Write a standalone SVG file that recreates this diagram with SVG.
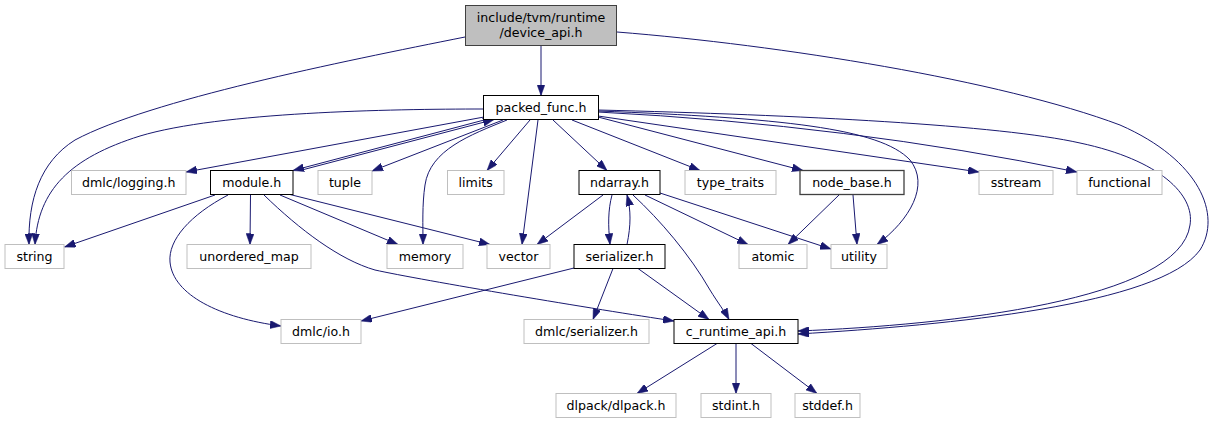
<svg xmlns="http://www.w3.org/2000/svg" width="1217" height="425" viewBox="0 0 1217 425">
<style>
.n rect{fill:#fff;stroke:#000;stroke-width:1}
.g rect{fill:#fff;stroke:#bfbfbf;stroke-width:1}
.root rect{fill:#bfbfbf;stroke:#404040;stroke-width:1}
.nb rect{fill:#fff;stroke:#404040;stroke-width:1.3}
text{font-family:"DejaVu Sans",sans-serif;font-size:12.6px;text-anchor:middle;fill:#000}
#edges path{fill:none;stroke:#191970;stroke-width:1;marker-end:url(#a)}
</style>
<defs>
<marker id="a" viewBox="0 0 11 8" refX="11" refY="4" markerWidth="11" markerHeight="8" markerUnits="userSpaceOnUse" orient="auto">
<path d="M0,0 L11,4 L0,8 z" fill="#191970" stroke="#191970" stroke-width="0.5"/>
</marker>
</defs>
<rect width="1217" height="425" fill="#fff"/>
<g id="edges">
<path d="M541,46 L541,95.5"/>
<path d="M465,37 C340,62 150,100 75,140 C40,162 28,200 29,244.5"/>
<path d="M617,32 C780,45 1000,80 1120,125 C1200,160 1222,215 1200,250 C1160,305 950,325 798,334"/>
<path d="M484,109 C390,109 220,112 140,136 C70,158 38,190 35,244.5"/>
<path d="M484,117 L186,172"/>
<path d="M486,119.5 L293,170.5"/>
<path d="M300,170.5 L494,119.5"/>
<path d="M503,120 L372,171"/>
<path d="M507,120 C470,135 430,150 425,185 C422,205 423,225 423,244.5"/>
<path d="M530,120 L487,170.5"/>
<path d="M538,120 L522,244.5"/>
<path d="M553,120 L607,170.5"/>
<path d="M572,120 L700,170.5"/>
<path d="M598,117 L803,170.5"/>
<path d="M598,111 C780,118 880,128 910,160 C930,185 910,220 877,244.5"/>
<path d="M598,116 L979,172"/>
<path d="M598,112 Q850,125 1077,172"/>
<path d="M598,110 C800,115 1000,125 1080,143 C1160,160 1195,195 1190,225 C1180,300 950,325 798,331"/>
<path d="M215,195 L64.5,247"/>
<path d="M250.5,195 L250,244.5"/>
<path d="M280,195 L398,244.5"/>
<path d="M290,194.5 L490,244.5"/>
<path d="M228,195 C190,215 168,240 170,262 C173,295 220,318 281,326"/>
<path d="M264,195 C300,230 340,260 375,270 C420,280 600,310 674,321"/>
<path d="M603,195 L537,244.5"/>
<path d="M612,195 C608,210 608,225 610,244.5"/>
<path d="M627,244.5 C631,225 631,210 627,195"/>
<path d="M645,195 L748,244.5"/>
<path d="M660,193 L831,249"/>
<path d="M633,195 C660,220 690,255 710,290 C718,303 725,312 729,319.5"/>
<path d="M839,195 L788,244.5"/>
<path d="M853,195 L857,244.5"/>
<path d="M574,268 L361,321"/>
<path d="M613,268.5 L593,319.5"/>
<path d="M638,268.5 L709,319.5"/>
<path d="M717,343.5 L637,393.5"/>
<path d="M736,343.5 L736,393.5"/>
<path d="M751,343.5 L817,393.5"/>
</g>
<g id="device_api" class="root"><rect x="465.5" y="5.5" width="151" height="40"/><text x="541" y="21.7">include/tvm/runtime</text><text x="541" y="36.7">/device_api.h</text></g>
<g id="packed_func" class="n"><rect x="483.5" y="95.5" width="115" height="24"/><text x="541" y="112">packed_func.h</text></g>
<g id="dmlc_logging" class="g"><rect x="71.5" y="170.5" width="114.5" height="24"/><text x="128.75" y="187">dmlc/logging.h</text></g>
<g id="module" class="n"><rect x="210.5" y="170.5" width="82.5" height="24"/><text x="251.75" y="187">module.h</text></g>
<g id="tuple" class="g"><rect x="318" y="170.5" width="54" height="24"/><text x="345" y="187">tuple</text></g>
<g id="limits" class="g"><rect x="447.5" y="170.5" width="56.5" height="24"/><text x="475.75" y="187">limits</text></g>
<g id="ndarray" class="n"><rect x="579" y="170.5" width="81" height="24"/><text x="619.5" y="187">ndarray.h</text></g>
<g id="type_traits" class="g"><rect x="685" y="170.5" width="91" height="24"/><text x="730.5" y="187">type_traits</text></g>
<g id="node_base" class="nb"><rect x="800" y="170.5" width="104" height="24"/><text x="852" y="187">node_base.h</text></g>
<g id="sstream" class="g"><rect x="979" y="170.5" width="74" height="24"/><text x="1016" y="187">sstream</text></g>
<g id="functional" class="g"><rect x="1077" y="170.5" width="85" height="24"/><text x="1119.5" y="187">functional</text></g>
<g id="string" class="g"><rect x="5" y="244.5" width="59" height="24"/><text x="34.5" y="261">string</text></g>
<g id="unordered_map" class="g"><rect x="187" y="244.5" width="124" height="24"/><text x="249" y="261">unordered_map</text></g>
<g id="memory" class="g"><rect x="387" y="244.5" width="76" height="24"/><text x="425" y="261">memory</text></g>
<g id="vector" class="g"><rect x="487" y="244.5" width="63" height="24"/><text x="518.5" y="261">vector</text></g>
<g id="serializer" class="n"><rect x="574" y="244.5" width="91" height="24"/><text x="619.5" y="261">serializer.h</text></g>
<g id="atomic" class="g"><rect x="739" y="244.5" width="68" height="24"/><text x="773" y="261">atomic</text></g>
<g id="utility" class="g"><rect x="831" y="244.5" width="56" height="24"/><text x="859" y="261">utility</text></g>
<g id="dmlc_io" class="g"><rect x="281" y="319.5" width="80" height="24"/><text x="321" y="336">dmlc/io.h</text></g>
<g id="dmlc_serializer" class="g"><rect x="524" y="319.5" width="125" height="24"/><text x="586.5" y="336">dmlc/serializer.h</text></g>
<g id="c_runtime_api" class="n"><rect x="674" y="319.5" width="124" height="24"/><text x="736" y="336">c_runtime_api.h</text></g>
<g id="dlpack" class="g"><rect x="556" y="393.5" width="120" height="24"/><text x="616" y="410">dlpack/dlpack.h</text></g>
<g id="stdint" class="g"><rect x="701" y="393.5" width="70" height="24"/><text x="736" y="410">stdint.h</text></g>
<g id="stddef" class="g"><rect x="795" y="393.5" width="65" height="24"/><text x="827.5" y="410">stddef.h</text></g>
</svg>
